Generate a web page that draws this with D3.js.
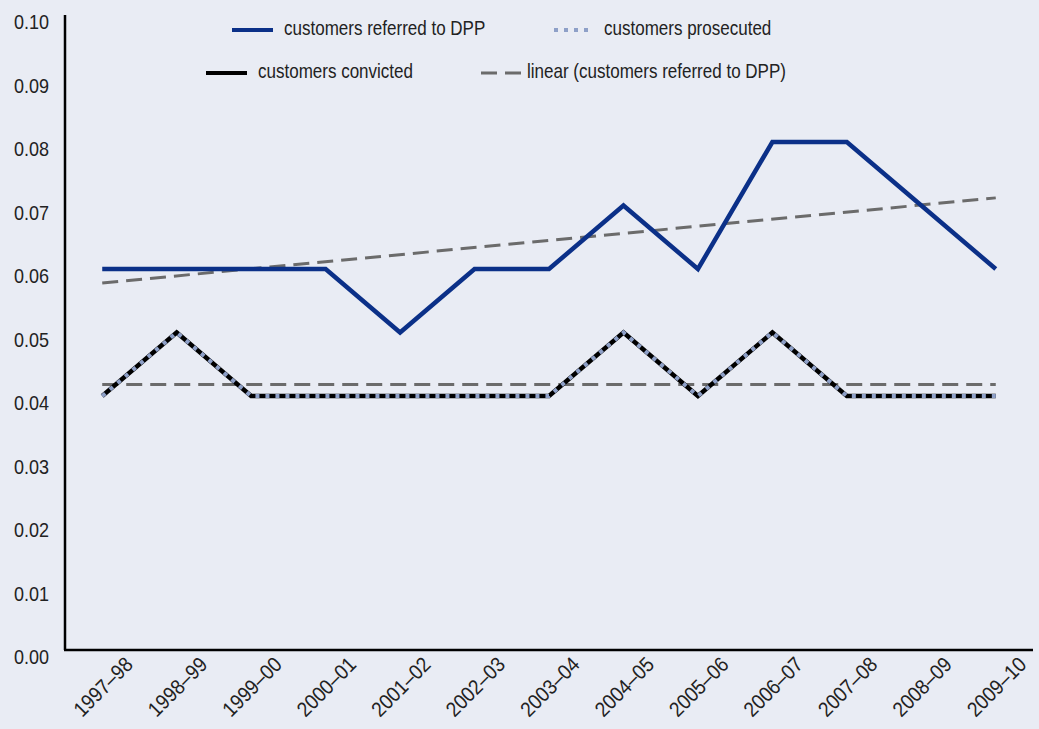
<!DOCTYPE html>
<html>
<head>
<meta charset="utf-8">
<script src="https://cdn.jsdelivr.net/npm/d3@7"></script>
<style>
  html, body { margin: 0; padding: 0; background: #E9ECF4; }
  svg { display: block; }
  text { font-family: "Liberation Sans", Arial, sans-serif; fill: #222; }
</style>
</head>
<body>
<svg id="chart" width="1039" height="729"></svg>
<script>
// Financial years
const years = ["1997–98","1998–99","1999–00","2000–01","2001–02","2002–03","2003–04",
               "2004–05","2005–06","2006–07","2007–08","2008–09","2009–10"];

// Rates per series
const referredDPP = [0.06,0.06,0.06,0.06,0.05,0.06,0.06,0.07,0.06,0.08,0.08,0.07,0.06];
const prosecuted  = [0.04,0.05,0.04,0.04,0.04,0.04,0.04,0.05,0.04,0.05,0.04,0.04,0.04];
const convicted   = [0.04,0.05,0.04,0.04,0.04,0.04,0.04,0.05,0.04,0.05,0.04,0.04,0.04];

// Trend line end values (first year, last year)
const referredTrend  = [0.0578, 0.0712];
const convictedTrend = [0.0418, 0.0418];

const yTicks = [0,0.01,0.02,0.03,0.04,0.05,0.06,0.07,0.08,0.09,0.10];

const svg = d3.select("#chart");
const plotLeft = 65, plotRight = 1033, plotTop = 15, plotBottom = 650;
const narrow = 0.83;   // condensed look for legend text

const x = d3.scalePoint().domain(years).range([plotLeft, plotRight]).padding(0.5);
const y = d3.scaleLinear().domain([0, 0.10]).range([plotBottom, plotTop]);

// y tick labels
svg.append("g").selectAll("text").data(yTicks).join("text")
  .attr("transform", d => `translate(49,${y(d) + 9}) scale(0.9,1)`)
  .attr("text-anchor", "end").attr("dominant-baseline", "middle")
  .style("font-size", "20px")
  .text(d => d3.format(".2f")(d));

// x tick labels
svg.append("g").selectAll("text").data(years).join("text")
  .attr("transform", d => `translate(${x(d) + 28},${plotBottom + 12}) rotate(-45) scale(0.9,1)`)
  .attr("text-anchor", "end").attr("dominant-baseline", "middle")
  .style("font-size", "21px")
  .text(d => d);

// axes lines
svg.append("line").attr("x1", plotLeft).attr("x2", plotLeft).attr("y1", plotTop).attr("y2", plotBottom)
  .attr("stroke", "#000").attr("stroke-width", 2.5);
svg.append("line").attr("x1", plotLeft - 1).attr("x2", plotRight).attr("y1", plotBottom).attr("y2", plotBottom)
  .attr("stroke", "#000").attr("stroke-width", 2.5);

const line = d3.line().x((d, i) => x(years[i])).y(d => y(d));
const ends = [years[0], years[years.length - 1]];
const trendLine = d3.line().x((d, i) => x(ends[i])).y(d => y(d));

// trend lines
svg.append("path").attr("d", trendLine(convictedTrend))
  .attr("fill", "none").attr("stroke", "#6B6B6B").attr("stroke-width", 3)
  .attr("stroke-dasharray", "16,8");
svg.append("path").attr("d", trendLine(referredTrend))
  .attr("fill", "none").attr("stroke", "#6B6B6B").attr("stroke-width", 3)
  .attr("stroke-dasharray", "16,8");

// series
svg.append("path").attr("d", line(referredDPP))
  .attr("fill", "none").attr("stroke", "#0B3088").attr("stroke-width", 4.5)
  .attr("stroke-linejoin", "miter");
svg.append("path").attr("d", line(convicted))
  .attr("fill", "none").attr("stroke", "#000").attr("stroke-width", 4.5)
  .attr("stroke-linejoin", "miter");
svg.append("path").attr("d", line(prosecuted))
  .attr("fill", "none").attr("stroke", "#8EA0C8").attr("stroke-width", 4)
  .attr("stroke-dasharray", "4,6");

// legend
const legend = [
  {label: "customers referred to DPP", x1: 232, x2: 273, tx: 284, y: 30, stroke: "#0B3088", dash: null, w: 4},
  {label: "customers prosecuted", x1: 554, x2: 592, tx: 604, y: 30, stroke: "#8EA0C8", dash: "4,6", w: 4},
  {label: "customers convicted", x1: 206, x2: 247, tx: 258, y: 73, stroke: "#000", dash: null, w: 4},
  {label: "linear (customers referred to DPP)", x1: 481, x2: 521, tx: 527, y: 73, stroke: "#6B6B6B", dash: "16,8", w: 3}
];
const lg = svg.append("g").selectAll("g").data(legend).join("g");
lg.append("line")
  .attr("x1", d => d.x1).attr("x2", d => d.x2).attr("y1", d => d.y).attr("y2", d => d.y)
  .attr("stroke", d => d.stroke).attr("stroke-width", d => d.w)
  .attr("stroke-dasharray", d => d.dash);
lg.append("text")
  .attr("transform", d => `translate(${d.tx},${d.y}) scale(${narrow},1)`)
  .attr("dominant-baseline", "middle")
  .style("font-size", "20.5px")
  .text(d => d.label);
</script>
</body>
</html>
